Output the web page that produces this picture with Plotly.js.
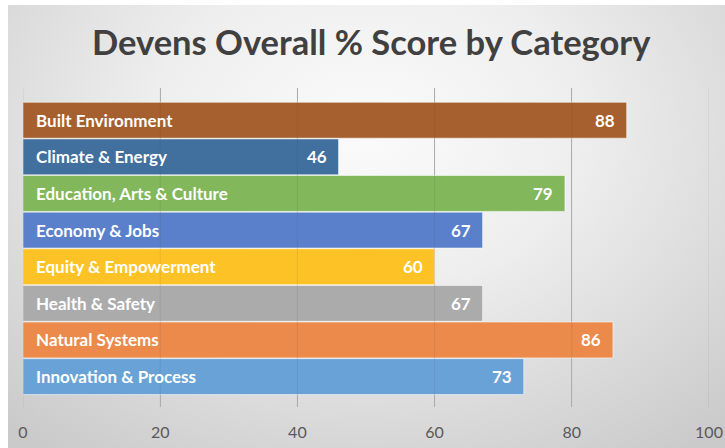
<!DOCTYPE html>
<html>
<head>
<meta charset="utf-8">
<script src="https://cdn.plot.ly/plotly-3.0.1.min.js"></script>
<style>
  html, body { margin: 0; padding: 0; background: #ffffff; width: 725px; height: 448px; overflow: hidden; }
  #bg { position: absolute; left: 8px; top: 5px; right: 0; bottom: 0;
        background: radial-gradient(ellipse 75% 90% at 50% 28%, #fbfbfb 0%, #eeeeee 40%, #d6d6d6 80%, #cacaca 100%); }
  #chart { position: absolute; left: 0; top: 0; width: 725px; height: 448px; }
</style>
</head>
<body>
<div id="bg"></div>
<div id="chart"></div>
<script>
const categories = ["Built Environment", "Climate & Energy", "Education, Arts & Culture", "Economy & Jobs",
                    "Equity & Empowerment", "Health & Safety", "Natural Systems", "Innovation & Process"];
const scores = [88, 46, 79, 67, 60, 67, 86, 73];
const barColors = ["#A65F2E", "#41709E", "#82B75C", "#5A80CB", "#FDC326", "#ABABAB", "#EB8A4B", "#69A2D7"];
const xTicks = [0, 20, 40, 60, 80, 100];
const chartTitle = "Devens Overall % Score by Category";

const FONT = "Lato, 'Open Sans', sans-serif";

const trace = {
  type: "bar",
  orientation: "h",
  y: categories,
  x: scores,
  marker: { color: barColors, line: { color: "rgba(255,255,255,0.55)", width: 1 } },
  hoverinfo: "none"
};

const annotations = [];
categories.forEach((c, i) => {
  annotations.push({
    x: 0, y: c, xref: "x", yref: "y", text: c, showarrow: false,
    xanchor: "left", xshift: 11, yanchor: "middle",
    font: { family: FONT, size: 17, color: "#ffffff", weight: "bold" }
  });
  annotations.push({
    x: scores[i], y: c, xref: "x", yref: "y", text: String(scores[i]), showarrow: false,
    xanchor: "right", xshift: -10, yanchor: "middle",
    font: { family: FONT, size: 17, color: "#ffffff", weight: "bold" }
  });
});

const shapes = xTicks.map(t => ({
  type: "line", xref: "x", yref: "paper", x0: t, x1: t, y0: 0, y1: 1,
  layer: "above", line: { color: "rgba(60,60,60,0.11)", width: 1 }
}));

const layout = {
  width: 725, height: 448,
  paper_bgcolor: "rgba(0,0,0,0)",
  plot_bgcolor: "rgba(0,0,0,0)",
  margin: { l: 23, r: 16, t: 88, b: 41 },
  title: {
    text: "<b>" + chartTitle + "</b>",
    x: 0.512, xref: "container", xanchor: "center",
    y: 0.904, yref: "container", yanchor: "middle",
    font: { family: FONT, size: 34.5, color: "#404040" }
  },
  xaxis: {
    range: [0, 100],
    tickvals: xTicks,
    ticktext: xTicks.map(String),
    showgrid: true, gridcolor: "#b8b8b8", gridwidth: 1,
    zeroline: false, showline: false,
    ticks: "", ticklabelstandoff: 14,
    tickfont: { family: FONT, size: 16, color: "#595959" },
    fixedrange: true
  },
  yaxis: {
    type: "category",
    categoryorder: "array", categoryarray: categories,
    range: [7.83, -0.88],
    showticklabels: false, showgrid: false, zeroline: false, showline: false, ticks: "",
    fixedrange: true
  },
  bargap: 0.02,
  showlegend: false,
  annotations: annotations,
  shapes: shapes
};

Plotly.newPlot("chart", [trace], layout, { displayModeBar: false, staticPlot: true });
</script>
</body>
</html>
